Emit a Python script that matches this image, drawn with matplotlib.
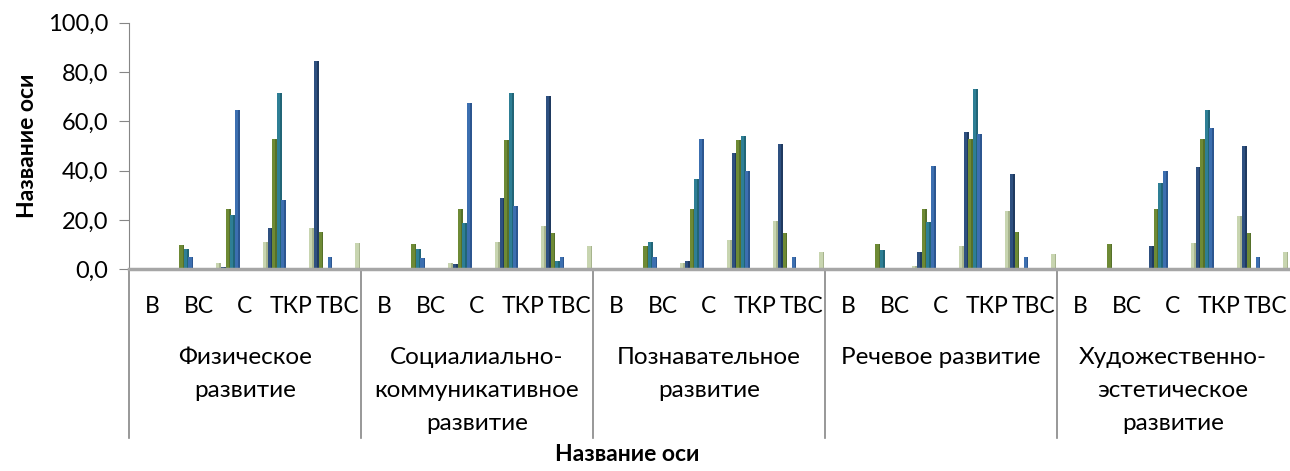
import numpy as np
import matplotlib.pyplot as plt
import matplotlib.transforms as mtransforms

plt.rcParams['font.family'] = ['Lato', 'DejaVu Sans']

# подписи категорий
podkat = ['В', 'ВС', 'С', 'ТКР', 'ТВС']
gruppy = ['Физическое\nразвитие',
          'Социалиально-\nкоммуникативное\nразвитие',
          'Познавательное\nразвитие',
          'Речевое развитие',
          'Художественно-\nэстетическое\nразвитие']

# значения рядов (по 5 на каждую группу)
ryad_temno_sin = [0, 0.3, 1.0, 16.8, 84.3,
                  0, 0.3, 2.0, 29.0, 70.2,
                  0, 0.3, 3.5, 47.0, 50.7,
                  0, 0.3, 7.1, 55.5, 38.6,
                  0, 0.3, 9.6, 41.3, 50.0]
ryad_oliva = [0, 9.8, 24.3, 53.0, 15.0,
              0, 10.1, 24.4, 52.6, 14.6,
              0, 9.4, 24.3, 52.6, 14.8,
              0, 10.1, 24.4, 53.0, 15.0,
              0, 10.1, 24.3, 53.0, 14.8]
ryad_biryuza = [0, 8.1, 22.0, 71.5, 0.3,
                0, 8.1, 18.9, 71.5, 3.4,
                0, 11.2, 36.6, 54.0, 0.3,
                0, 7.8, 19.3, 73.3, 0.5,
                0, 0.5, 34.8, 64.8, 0.5]
ryad_sin = [0, 4.9, 64.8, 28.0, 4.9,
            0, 4.5, 67.5, 25.6, 4.9,
            0, 4.9, 53.0, 39.8, 4.9,
            0, 0.3, 42.0, 55.0, 4.9,
            0, 0.5, 39.8, 57.3, 4.9]
ryad_bezh = [0.3, 2.4, 10.9, 16.8, 10.5,
             0.3, 2.4, 11.2, 17.7, 9.4,
             0.3, 2.4, 11.9, 19.6, 7.1,
             0.3, 1.5, 9.4, 23.7, 6.2,
             0.3, 0.5, 10.8, 21.6, 7.1]

# (значения, сдвиг в слоте, цвет лица, цвет бока)
ryady = [
    (ryad_temno_sin, 0.043, '#2E5080', '#1F3A60'),
    (ryad_oliva, 0.140, '#6E8A35', '#55702A'),
    (ryad_biryuza, 0.237, '#2E7F95', '#216577'),
    (ryad_sin, 0.334, '#3C6FB0', '#2C5690'),
    (ryad_bezh, 0.935, '#C8D5B0', '#A7B48D'),
]

fig = plt.figure(figsize=(12.9, 4.71), dpi=100)
ax = fig.add_axes([0.1, 0.4282, 0.8992, 0.5236])

n = len(podkat) * len(gruppy)
x = np.arange(n)
for vals, sdvig, c1, c2 in ryady:
    ax.bar(x + sdvig - 0.02, vals, width=0.07, color=c1, align='center', zorder=3)
    ax.bar(x + sdvig + 0.033, vals, width=0.036, color=c2, align='center', zorder=3)

ax.set_xlim(0, n)
ax.set_ylim(0, 100)
ax.set_yticks(np.arange(0, 101, 20))
ax.set_yticklabels([f"{v:.1f}".replace('.', ',') for v in range(0, 101, 20)])
ax.set_xticks([])

for s in ['top', 'right']:
    ax.spines[s].set_visible(False)
ax.spines['left'].set_color('#868686')
ax.spines['bottom'].set_color('#A6A6A6')
ax.spines['bottom'].set_linewidth(2.5)
ax.spines['bottom'].set_zorder(4)
ax.tick_params(axis='y', length=7, color='#868686', labelsize=17, pad=8)

# подписи категорий в два уровня
trans = mtransforms.blended_transform_factory(ax.transData, ax.transAxes)
for i in range(n):
    ax.text(i + 0.5, -0.15, podkat[i % len(podkat)], transform=trans,
            ha='center', va='center', fontsize=16.5)
for g, nazv in enumerate(gruppy):
    ax.text(g * 5 + 2.5, -0.317, nazv, transform=trans, ha='center', va='top',
            fontsize=17.5, linespacing=1.68)
    ax.plot([g * 5, g * 5], [0, -0.684], transform=trans, color='#868686',
            lw=1.2, clip_on=False)

ax.set_ylabel('Название оси', fontsize=16.5, fontweight='bold', labelpad=7)
fig.text(0.486, 0.034, 'Название оси', ha='center', va='center',
         fontsize=16.5, fontweight='bold')

fig.savefig('out.png', dpi=100)
